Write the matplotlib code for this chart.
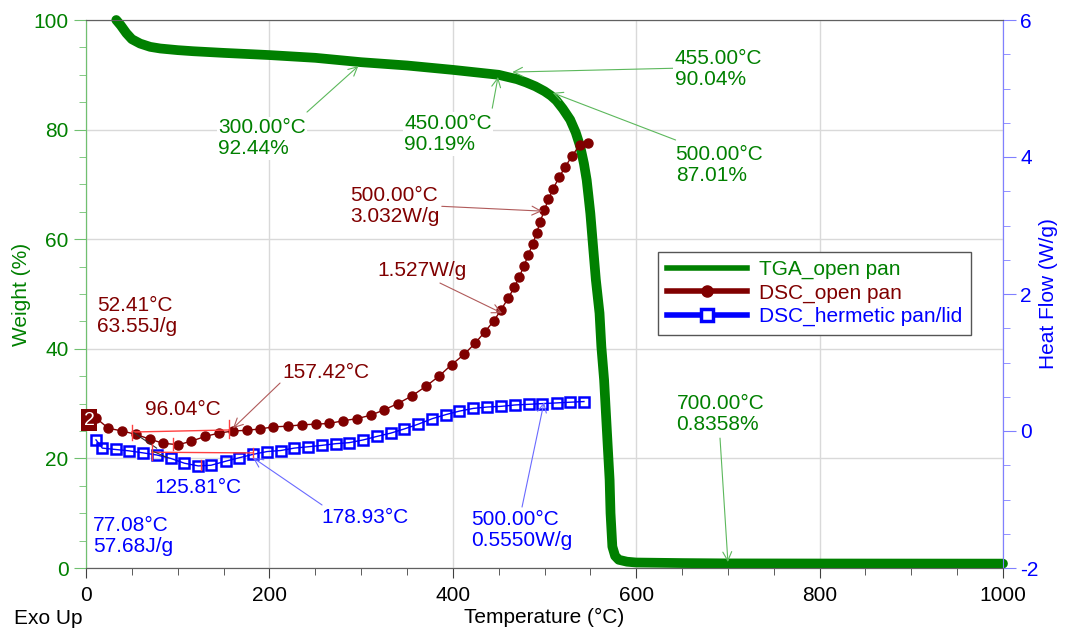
import matplotlib
matplotlib.use("Agg")
import matplotlib.pyplot as plt
from matplotlib.lines import Line2D
from matplotlib.ticker import MultipleLocator

plt.rcParams['font.family'] = ['Liberation Sans', 'DejaVu Sans']
plt.rcParams['font.size'] = 15
plt.rcParams['axes.unicode_minus'] = False

# TGA, open pan: temperature (C) vs weight (%)
tga_temp = [33, 38, 44, 50, 59, 70, 81, 100, 117, 150, 200, 250, 300, 350, 400,
            450, 455, 470, 480, 490, 500, 507, 513, 520, 528, 534, 539, 543, 546,
            548, 550, 553, 556, 560, 562, 565, 567, 569, 571, 572, 574, 577, 581,
            590, 600, 650, 700, 800, 900, 1000]
tga_weight = [100, 99.0, 97.6, 96.5, 95.7, 95.1, 94.8, 94.5, 94.3, 94.0, 93.6,
              93.1, 92.3, 91.7, 90.9, 90.0, 89.8, 89.2, 88.6, 87.9, 87.0, 86.2,
              85.3, 83.8, 81.8, 79.5, 76.9, 73.8, 70.8, 67.8, 64.7, 58.6, 52.6,
              46.5, 40.4, 34.3, 28.2, 22.1, 16.1, 10.0, 3.9, 2.2, 1.5, 1.15, 1.0,
              0.9, 0.84, 0.82, 0.81, 0.80]

# DSC, open pan: temperature (C) vs heat flow (W/g)
dsc_open_temp = [10.9, 24.3, 39.6, 54.5, 69.8, 84.3, 100.7, 114.5, 129.8, 145.0,
                 160.6, 175.2, 189.7, 204.3, 219.9, 235.2, 250.5, 265.0, 280.6,
                 295.2, 310.5, 325.3, 339.9, 355.2, 370.4, 384.9, 398.8, 412.5,
                 424.2, 435.1, 444.9, 452.6, 460.5, 467.1, 472.5, 477.6, 482.3,
                 487.1, 491.5, 495.1, 499.8, 504.1, 509.6, 516.1, 522.4, 529.7,
                 538.7, 547.1]
dsc_open_hf = [0.19, 0.04, 0.00, -0.05, -0.12, -0.18, -0.20, -0.15, -0.08, -0.03,
               0.00, 0.01, 0.03, 0.06, 0.07, 0.09, 0.10, 0.11, 0.15, 0.18, 0.23,
               0.31, 0.40, 0.51, 0.65, 0.80, 0.97, 1.12, 1.28, 1.45, 1.61, 1.77,
               1.94, 2.10, 2.25, 2.41, 2.57, 2.73, 2.89, 3.05, 3.22, 3.38, 3.54,
               3.71, 3.85, 4.01, 4.18, 4.21]

# DSC, hermetic pan/lid
dsc_herm_temp = [10.9, 17.8, 32.4, 47.2, 62.5, 77.1, 92.4, 107.2, 122.5, 136.3,
                 152.7, 167.2, 182.5, 197.4, 212.3, 227.0, 242.4, 257.0, 272.4,
                 287.1, 302.4, 317.0, 332.6, 347.1, 362.4, 377.6, 392.6, 407.1,
                 422.4, 437.6, 452.6, 467.8, 483.1, 497.6, 513.3, 527.8, 543.0]
dsc_herm_hf = [-0.13, -0.25, -0.27, -0.29, -0.32, -0.35, -0.40, -0.47, -0.51,
               -0.50, -0.44, -0.39, -0.34, -0.30, -0.285, -0.25, -0.23, -0.21,
               -0.185, -0.17, -0.13, -0.08, -0.03, 0.03, 0.10, 0.18, 0.24, 0.29,
               0.33, 0.35, 0.36, 0.38, 0.39, 0.40, 0.41, 0.42, 0.43]

green = '#008000'
maroon = '#800000'
blue = '#0000ff'

fig = plt.figure(figsize=(10.7, 6.3), dpi=100)
ax = fig.add_axes([86 / 1070, 62 / 630, 917 / 1070, 548 / 630])
ax2 = ax.twinx()

# TGA curve
ax.plot(tga_temp, tga_weight, color=green, lw=7, solid_capstyle='round',
        solid_joinstyle='round', zorder=3, clip_on=False)
ax.set_xlim(0, 1000)
ax.set_ylim(0, 100)
ax.xaxis.set_major_locator(MultipleLocator(200))
ax.xaxis.set_minor_locator(MultipleLocator(50))
ax.yaxis.set_major_locator(MultipleLocator(20))
ax.yaxis.set_minor_locator(MultipleLocator(5))
ax.grid(True, which='major', color='#d9d9d9', lw=1)
ax.set_axisbelow(True)

# DSC curves
ax2.plot(dsc_open_temp, dsc_open_hf, color=maroon, lw=1, marker='o', ms=6.5,
         mec=maroon, mfc=maroon)
ax2.plot(dsc_herm_temp, dsc_herm_hf, color=blue, lw=1, marker='s', ms=7,
         mfc='none', mec=blue, mew=1.8)
ax2.set_ylim(-2, 6)
ax2.yaxis.set_major_locator(MultipleLocator(2))
ax2.yaxis.set_minor_locator(MultipleLocator(0.5))

# spines and ticks
for a in (ax, ax2):
    a.spines['top'].set_color('#606060')
    a.spines['bottom'].set_color('#606060')
    a.spines['left'].set_color('#70c070')
    a.spines['right'].set_color('#8080ff')
ax.tick_params(axis='x', which='major', length=7, color='#404040', labelsize=15, pad=6)
ax.tick_params(axis='x', which='minor', length=5, color='#404040')
ax.tick_params(axis='y', which='major', length=9, color='#70c070', labelcolor=green, labelsize=15)
ax.tick_params(axis='y', which='minor', length=5, color='#70c070')
ax2.tick_params(axis='y', which='major', length=9, color='#8080ff', labelcolor=blue, labelsize=15)
ax2.tick_params(axis='y', which='minor', length=5, color='#8080ff')

ax.set_xlabel('Temperature (°C)', fontsize=15, labelpad=2)
ax.set_ylabel('Weight (%)', color=green, fontsize=15, labelpad=2)
ax2.set_ylabel('Heat Flow (W/g)', color=blue, fontsize=15, labelpad=0)
fig.text(14 / 1070, 1 - 618 / 630, 'Exo Up', fontsize=15, va='center', ha='left')


def note(axis, x, y, text, color, white=False):
    kw = dict(fontsize=15, color=color, ha='left', va='center', linespacing=1.15, zorder=6)
    if white:
        kw['bbox'] = dict(facecolor='white', edgecolor='none', pad=1)
    axis.text(x, y, text, **kw)


def arrow(axis, start, end, color):
    axis.annotate('', xy=end, xytext=start,
                  arrowprops=dict(arrowstyle='->', color=color, lw=0.8,
                                  shrinkA=0, shrinkB=0, mutation_scale=16),
                  zorder=5)


ga = '#5cb85c'
# TGA annotations (weight axis)
note(ax, 144, 78.4, '300.00°C\n92.44%', green, True)
arrow(ax, (241, 83.2), (297, 91.6), ga)
note(ax, 347, 79.2, '450.00°C\n90.19%', green, True)
arrow(ax, (443, 83.9), (449.3, 89.6), ga)
note(ax, 642, 91.0, '455.00°C\n90.04%', green, True)
arrow(ax, (642, 91.2), (465, 90.5), ga)
note(ax, 643, 73.5, '500.00°C\n87.01%', green, True)
arrow(ax, (643, 78.1), (509, 86.7), ga)
note(ax, 644, 28.1, '700.00°C\n0.8358%', green, True)
arrow(ax, (691.4, 23.7), (700, 1.1), ga)

ma = '#b05a5a'
note(ax2, 288, 3.29, '500.00°C\n3.032W/g', maroon)
arrow(ax2, (388, 3.28), (497.3, 3.21), ma)
note(ax2, 318, 2.34, '1.527W/g', maroon)
arrow(ax2, (386, 2.16), (453.7, 1.72), ma)
note(ax2, 12, 1.68, '52.41°C\n63.55J/g', maroon)
note(ax2, 214, 0.86, '157.42°C', maroon)
arrow(ax2, (211.6, 0.70), (160.3, 0.04), ma)
note(ax2, 64, 0.31, '96.04°C', maroon)

ba = '#6a6aff'
note(ax2, 75, -0.82, '125.81°C', blue)
note(ax2, 257, -1.27, '178.93°C', blue)
arrow(ax2, (257.4, -1.08), (182.1, -0.39), ba)
note(ax2, 7.6, -1.53, '77.08°C\n57.68J/g', blue)
note(ax2, 420, -1.45, '500.00°C\n0.5550W/g', blue)
arrow(ax2, (475.5, -1.11), (499.5, 0.42), ba)

# integration baselines and limits
red = '#ff4040'
ax2.plot([50, 156], [-0.015, 0.015], color=red, lw=1)
ax2.plot([51, 77], [-0.015, -0.25], color='#303030', lw=0.8)
for t, lo, hi in [(50, -0.13, 0.09), (95, -0.28, -0.10), (156, -0.10, 0.16)]:
    ax2.plot([t, t], [lo, hi], color=red, lw=1)
ax2.plot([72, 182], [-0.31, -0.32], color=red, lw=1)
ax2.plot([72, 89], [-0.29, -0.39], color='#303030', lw=0.8)
for t, lo, hi in [(72, -0.42, -0.19), (125, -0.57, -0.42), (182, -0.39, -0.25)]:
    ax2.plot([t, t], [lo, hi], color=red, lw=1)

ax2.text(3.3, 0.16, '2', color='white', fontsize=14, ha='center', va='center',
         bbox=dict(facecolor=maroon, edgecolor='none', pad=1.5), clip_on=False, zorder=7)

# legend
handles = [
    Line2D([], [], color=green, lw=4),
    Line2D([], [], color=maroon, lw=4, marker='o', ms=8, mfc=maroon, mec=maroon),
    Line2D([], [], color=blue, lw=4, marker='s', ms=9, mfc='white', mec=blue, mew=2.5),
]
labels = ['TGA_open pan', 'DSC_open pan', 'DSC_hermetic pan/lid']
leg = ax2.legend(handles, labels, loc='upper left', bbox_to_anchor=(0.624, 0.577),
                 fontsize=15, frameon=True, fancybox=False, framealpha=1,
                 edgecolor='#555555', handlelength=3.85, handletextpad=0.6,
                 labelspacing=0.2, borderpad=0.4, borderaxespad=0)
leg.get_frame().set_linewidth(1)
leg.set_zorder(10)
for txt, c in zip(leg.get_texts(), [green, maroon, blue]):
    txt.set_color(c)

fig.savefig('out.png', dpi=100)
